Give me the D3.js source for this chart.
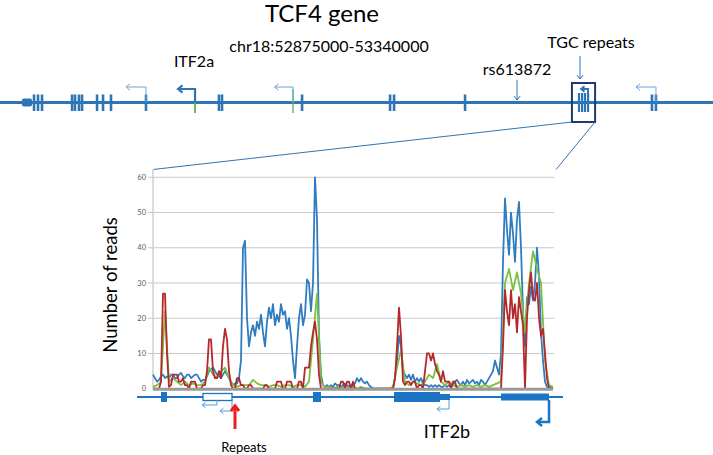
<!DOCTYPE html>
<html><head><meta charset="utf-8">
<script src="https://cdn.jsdelivr.net/npm/d3@7"></script>
<style>body{margin:0;background:#fff}svg{display:block;font-family:Lato,"Open Sans",sans-serif}</style>
</head><body><svg id="c" width="713" height="455"></svg>
<script>
// ---------- data ----------
// coverage tracks (number of reads) across the zoomed TGC-repeat region; position runs 0..100
const blue = [4,3,2,2.5,3.5,4,3,3.5,3,4, 4,3,3,4,4.5,3.5,3,4,4,3, 3.5,4,4,3,2,2.5,2.5,3.5,5,5.5,
  6,5,4,3.5,3,4,5,4,3,2, 1,1.5,1.5,3,8,40,42,20,12,16, 18,15,19,17,21,16,12,19,23,20,
  24,18,21,19,24,21,22,17,20,15, 8,3,12,20,24,18,21,31,30,22, 30,60,48,15,4,1,0.5,1,0.5,1,
  0.5,1.5,1,1,0.5,1,1.5,1,0.5,1, 1,1.5,3,2,3,2,1.5,2,1,0.5, 0,0,0,0,0,0,0,0,0,0,
  0,3,8,15,12,5,4,3,4,2.5, 4,2,3,2,3,1.5,1,1,0.5,1, 0.5,1,0.5,1,0.5,0.5,1,0.5,1,0.5,
  1,2,2.5,1.5,1,2,1,2.5,1.5,2, 2.5,1.5,2,1,2.5,2,1,2,3,4, 5,8,6,4,10,36,54,45,38,50,
  44,36,48,53,40,22,12,26,24,29, 25,30,40,32,16,8,2,0.5,0.5,0.5, 0];
const green = [0.5,1,2,22,2,3,2,1,2,1,1.5,1,1,2,6,4,3,5,6,3,1,0.5,1,1,1,2.5,1.5,1,1,0.5,1,1,0.5,1,1,0.5,1,1,0.5,2,14,27,2,0.5,0.5,0,0.5,0,0.5,0,0.5,0,0.5,0,0,0,0,0,0,0,0.5,6,11,2,1,2,1.5,1,2,4,3,7,2,1,2,1,0.5,1,0.5,1,0.5,1,0.5,1,0.5,1,1.5,2,30,34,28,33,27,16,30,39,34,30,8,1,0.5];
const red = [0,0,0,0,2,27,27,10,0.5,1, 4,4,4,2,2,3,1,1,0,2, 2,2,0,0,0,1,1,5,14,14,
  5,3,3,5,3,12,17,14,5,1, 0,0,3,3,1,1,0,0,1,1, 0,0,0,0,0,0,1,1,0,0,
  0,0,2,2,2,0,0,2,2,2, 0,0,0,2,2,0,6,6,6,12, 16,19,14,4,0,0,0,0,0,0,
  0,0,0,0,2,2,0,2,2,0, 2,0,0,0,0,0,0,0,0,0, 0,0,0,0,0,0,0,0,0,0,
  0,3,12,23,15,2,1,2,2,1, 2,2,0,1,1,0,5,10,10,8, 10,7,5,4,2,5,2,2,2,0,
  2,2,0,0,0,0,0,0,0,0, 0,0,0,0,0,0,0,0,0,0, 0,0,0,0,0,12,28,22,18,28,
  20,24,16,26,22,18,0,20,28,33, 26,25,30,20,15,17,10,3,0,0, 0];
const yTicks = [0,10,20,30,40,50,60];

// top gene track (kb from chr18:52875000, region 465 kb)
const topExons   = [22.2,24.8,27.4,47.0,48.9,51.5,53.5,63.3,67.2,72.4,95.2,142.8,144.8,197.0,254.4,257.0,303.3,425.2,427.8];
const boxExons   = [377.6,379.6,381.5,383.5];
const utrStart   = [14.3,20.9];
const greenTSS   = [127.2,191.1];
const thinTSS    = [{at:95.2,len:13},{at:191.1,len:12},{at:427.8,len:13}];
const itf2aTSS   = 127.2;
const rsPos      = 337.2;
const tgcPos     = 378.3;
const zoomBox    = [373.0,388.1];

// lower zoomed gene track (same position units as coverage)
const lowExons   = [{s:2,e:3.5,h:"full"},{s:12.5,e:19.75,h:"open"},{s:40,e:42,h:"full"},{s:60.25,e:71.75,h:"full"},{s:71.75,e:74.25,h:"mid"},{s:87,e:99,h:"mid2"}];
const lowThin    = [{at:16,to:12.25,d:8},{at:19.75,to:16.75,d:14},{at:74,to:71,d:12}];
const itf2bTSS   = {at:99,to:96};
const repeatsPos = 20.5;

// ---------- drawing ----------
const svg = d3.select("#c");
const cBlue="#2e75b6";

const tx = d3.scaleLinear().domain([0,465]).range([0,713]);
const lineY = 102.5;
const topG = svg.append("g");
topG.append("line").attr("x1",0).attr("x2",713).attr("y1",lineY).attr("y2",lineY).attr("stroke",cBlue).attr("stroke-width",3);
topG.append("rect").attr("x",tx(utrStart[0])).attr("width",tx(utrStart[1])-tx(utrStart[0])).attr("y",98.5).attr("height",8).attr("rx",2).attr("fill",cBlue);
topG.selectAll(".ex").data(topExons).join("line").attr("x1",d=>tx(d)).attr("x2",d=>tx(d)).attr("y1",94.5).attr("y2",111).attr("stroke",cBlue).attr("stroke-width",2.6);
topG.selectAll(".bx").data(boxExons).join("line").attr("x1",d=>tx(d)).attr("x2",d=>tx(d)).attr("y1",93).attr("y2",112).attr("stroke",cBlue).attr("stroke-width",2.2);
topG.selectAll(".gt").data(greenTSS).join("line").attr("x1",d=>tx(d)).attr("x2",d=>tx(d)).attr("y1",89).attr("y2",113).attr("stroke","#4fb24a").attr("stroke-width",1.3);

function chevron(g,x,y,dir,size,color,w){
  let p;
  if(dir==="left") p=`M${x+size},${y-size*0.8}L${x},${y}L${x+size},${y+size*0.8}`;
  if(dir==="down") p=`M${x-size*0.8},${y-size}L${x},${y}L${x+size*0.8},${y-size}`;
  if(dir==="up") p=`M${x-size*0.8},${y+size}L${x},${y}L${x+size*0.8},${y+size}`;
  g.append("path").attr("d",p).attr("fill","none").attr("stroke",color).attr("stroke-width",w).attr("stroke-linejoin","miter");
}
thinTSS.forEach(t=>{
  const x=tx(t.at), x2=tx(t.at-t.len), y=87;
  topG.append("path").attr("d",`M${x},${lineY}V${y}H${x2}`).attr("fill","none").attr("stroke","#6fa3d8").attr("stroke-width",1);
  chevron(topG,x2,y,"left",4,"#6fa3d8",1);
});
{
  const x=tx(itf2aTSS), x2=x-17, y=89;
  topG.append("path").attr("d",`M${x},${lineY}V${y}H${x2}`).attr("fill","none").attr("stroke",cBlue).attr("stroke-width",2.2);
  chevron(topG,x2,y,"left",4.5,cBlue,2.2);
  topG.append("line").attr("x1",x).attr("x2",x).attr("y1",lineY).attr("y2",113).attr("stroke","#4fb24a").attr("stroke-width",1.3);
}
{
  const x=tx(boxExons[3]), x2=tx(boxExons[1])-1, y=89;
  topG.append("path").attr("d",`M${x},${lineY}V${y}H${x2}`).attr("fill","none").attr("stroke",cBlue).attr("stroke-width",2);
  chevron(topG,x2,y,"left",3.5,cBlue,2);
}
chevron(topG,tx(rsPos),100,"down",4,cBlue,1);
topG.append("line").attr("x1",tx(rsPos)).attr("x2",tx(rsPos)).attr("y1",80).attr("y2",100).attr("stroke",cBlue).attr("stroke-width",1);
topG.append("line").attr("x1",tx(tgcPos)).attr("x2",tx(tgcPos)).attr("y1",56).attr("y2",79).attr("stroke",cBlue).attr("stroke-width",1);
chevron(topG,tx(tgcPos),79,"down",4,cBlue,1);
topG.append("rect").attr("x",tx(zoomBox[0])).attr("y",83).attr("width",tx(zoomBox[1])-tx(zoomBox[0])).attr("height",39).attr("fill","none").attr("stroke","#1f3a6e").attr("stroke-width",2);

svg.append("text").attr("x",322).attr("y",22).attr("text-anchor","middle").attr("font-size",24).attr("fill","#000").text("TCF4 gene");
svg.append("text").attr("x",329).attr("y",52).attr("text-anchor","middle").attr("font-size",16).attr("fill","#000").text("chr18:52875000-53340000");
svg.append("text").attr("x",194).attr("y",67).attr("text-anchor","middle").attr("font-size",16).attr("fill","#000").text("ITF2a");
svg.append("text").attr("x",tx(rsPos)).attr("y",75).attr("text-anchor","middle").attr("font-size",16).attr("fill","#000").text("rs613872");
svg.append("text").attr("x",591).attr("y",48).attr("text-anchor","middle").attr("font-size",16).attr("fill","#000").text("TGC repeats");

// coverage chart
const x = d3.scaleLinear().domain([0,100]).range([153,553]);
const y = d3.scaleLinear().domain([0,60]).range([388.7,177.3]);

svg.append("line").attr("x1",tx(zoomBox[0])).attr("y1",122).attr("x2",x(0)).attr("y2",169.5).attr("stroke",cBlue).attr("stroke-width",1);
svg.append("line").attr("x1",tx(zoomBox[1])).attr("y1",122).attr("x2",x(100)+3).attr("y2",169.5).attr("stroke",cBlue).attr("stroke-width",1);

const grid = svg.append("g");
grid.selectAll("line.g").data(yTicks.filter(d=>d>0)).join("line")
  .attr("x1",x(0)-5).attr("x2",x(100)+1).attr("y1",d=>y(d)).attr("y2",d=>y(d)).attr("stroke","#c8c8c8").attr("stroke-width",1);
grid.append("line").attr("x1",x(0)).attr("x2",x(0)).attr("y1",169).attr("y2",390).attr("stroke","#d0d0d0").attr("stroke-width",1.5);
grid.selectAll("text").data(yTicks).join("text")
  .attr("x",x(0)-7).attr("y",d=>y(d)+2.5).attr("text-anchor","end").attr("font-size",7.5).attr("fill","#595959").text(d=>d);

function series(arr, color, curve){
  const n = arr.length-1;
  const ln = d3.line().x((d,i)=>x(i*100/n)).y(d=>y(d)).curve(curve);
  svg.append("path").attr("d",ln(arr)).attr("fill","none").attr("stroke",color).attr("stroke-width",1.8).attr("stroke-linejoin","round");
}
series(blue,"#2f7dbf",d3.curveLinear);
series(green,"#7cc142",d3.curveLinear);
series(red,"#b5292d",d3.curveLinear);
svg.append("line").attr("x1",x(0)).attr("x2",x(100)).attr("y1",y(0)+0.5).attr("y2",y(0)+0.5).attr("stroke","#9a9a9a").attr("stroke-width",3);

svg.append("text").attr("transform",`translate(117,285) rotate(-90)`).attr("text-anchor","middle").attr("font-size",18.5).attr("fill","#000").text("Number of reads");

// lower gene track
const lowY = 397;
const low = svg.append("g");
const cLow="#1b75c4";
low.append("line").attr("x1",x(-4)).attr("x2",x(102.5)).attr("y1",lowY).attr("y2",lowY).attr("stroke",cLow).attr("stroke-width",2);
lowExons.forEach(e=>{
  const hh = e.h==="full"?10:(e.h==="mid"?6:7);
  low.append("rect").attr("x",x(e.s)).attr("width",x(e.e)-x(e.s)).attr("y",lowY-hh/2).attr("height",hh)
    .attr("fill",e.h==="open"?"#fff":cLow).attr("stroke",cLow).attr("stroke-width",e.h==="open"?1.3:0);
});
lowThin.forEach(t=>{
  const xa=x(t.at), xb=x(t.to), yy=lowY+t.d;
  low.append("path").attr("d",`M${xa},${lowY+3}V${yy}H${xb}`).attr("fill","none").attr("stroke","#5b9bd5").attr("stroke-width",1);
  chevron(low,xb,yy,"left",3.5,"#5b9bd5",1);
});
{
  const xa=x(itf2bTSS.at), xb=x(itf2bTSS.to), yy=422;
  low.append("path").attr("d",`M${xa},${lowY+3}V${yy}H${xb}`).attr("fill","none").attr("stroke",cLow).attr("stroke-width",2.5);
  chevron(low,xb,yy,"left",5,cLow,2.5);
}
low.append("line").attr("x1",x(repeatsPos)).attr("x2",x(repeatsPos)).attr("y1",429).attr("y2",408).attr("stroke","#ee1c1c").attr("stroke-width",3);
chevron(low,x(repeatsPos),406,"up",5,"#ee1c1c",3);
svg.append("text").attr("x",244).attr("y",452).attr("text-anchor","middle").attr("font-size",13).attr("fill","#000").text("Repeats");
svg.append("text").attr("x",447).attr("y",438).attr("text-anchor","middle").attr("font-size",18).attr("fill","#000").text("ITF2b");
</script></body></html>
